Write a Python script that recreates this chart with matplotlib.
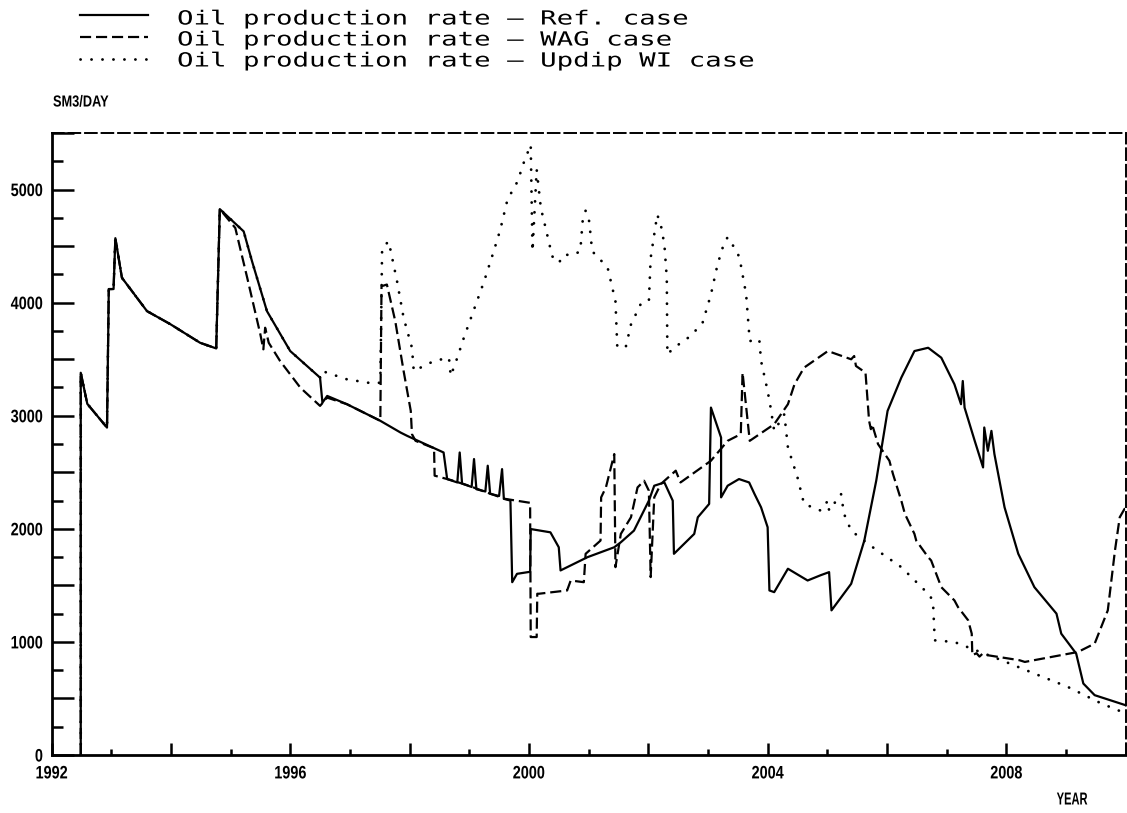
import matplotlib
matplotlib.use("Agg")
import matplotlib.pyplot as plt
from matplotlib.lines import Line2D
from matplotlib.ticker import MultipleLocator, FuncFormatter
from matplotlib.patheffects import AbstractPathEffect
from matplotlib.transforms import Affine2D

# history common to all three runs (year, Sm3/day)
shared_year = [1992.49, 1992.49, 1992.60, 1992.93, 1992.96, 1993.04, 1993.07,
               1993.18, 1993.60, 1993.99, 1994.49, 1994.76, 1994.82]
shared_rate = [0, 3380, 3105, 2895, 4120, 4120, 4570,
               4220, 3925, 3810, 3645, 3595, 4827]

# Reference case
ref_year = [1995.22, 1995.36, 1995.61, 1996.00, 1996.50, 1996.54, 1996.62, 1996.95,
            1997.51, 1997.85, 1997.96, 1998.57, 1998.63, 1998.80, 1998.84, 1998.88,
            1999.04, 1999.08, 1999.12, 1999.27, 1999.31, 1999.35, 1999.50, 1999.55,
            1999.58, 1999.69, 1999.72, 1999.80, 2000.02, 2000.03, 2000.36, 2000.50,
            2000.53, 2000.98, 2001.43, 2001.54, 2001.76, 2002.01, 2002.10, 2002.27,
            2002.41, 2002.43, 2002.77, 2002.83, 2003.02, 2003.05, 2003.22, 2003.22,
            2003.33, 2003.52, 2003.69, 2003.78, 2003.89, 2004.00, 2004.03, 2004.11,
            2004.34, 2004.67, 2004.89, 2005.03, 2005.07, 2005.40, 2005.62, 2005.82,
            2006.01, 2006.24, 2006.46, 2006.69, 2006.91, 2007.13, 2007.24, 2007.27,
            2007.30, 2007.47, 2007.61, 2007.63, 2007.69, 2007.75, 2007.80, 2007.97,
            2008.20, 2008.47, 2008.84, 2008.92, 2009.17, 2009.29, 2009.48, 2010.00]
ref_rate = [4630, 4366, 3925, 3572, 3337, 3116, 3175, 3102,
            2955, 2851, 2822, 2675, 2440, 2410, 2675, 2400,
            2370, 2617, 2350, 2330, 2558, 2310, 2290, 2528,
            2265, 2250, 1528, 1602, 1620, 1998, 1969, 1837,
            1632, 1749, 1837, 1881, 1984, 2249, 2381, 2410,
            2249, 1779, 1955, 2102, 2220, 3072, 2807, 2278,
            2381, 2440, 2410, 2308, 2190, 2014, 1455, 1440,
            1647, 1543, 1590, 1617, 1279, 1514, 1896, 2426,
            3043, 3337, 3572, 3601, 3513, 3278, 3102, 3307,
            3072, 2778, 2543, 2896, 2690, 2866, 2661, 2190,
            1779, 1484, 1250, 1073, 897, 632, 529, 440]

# WAG case
wag_year = [1995.08, 1995.28, 1995.50, 1995.55, 1995.58, 1995.64, 1995.83, 1996.17,
            1996.50, 1996.62, 1996.95, 1997.51, 1997.53, 1997.62, 1997.76, 1997.90,
            1998.02, 1998.04, 1998.10, 1998.38, 1998.41, 1998.42, 1998.70, 1999.00,
            1999.30, 1999.60, 1999.97, 2000.02, 2000.03, 2000.13, 2000.14, 2000.17,
            2000.64, 2000.70, 2000.92, 2000.95, 2001.20, 2001.21, 2001.29, 2001.43,
            2001.45, 2001.54, 2001.71, 2001.82, 2001.93, 2002.01, 2002.04, 2002.10,
            2002.21, 2002.46, 2002.54, 2003.05, 2003.33, 2003.55, 2003.58, 2003.70,
            2004.11, 2004.34, 2004.45, 2004.61, 2005.01, 2005.40, 2005.45, 2005.48,
            2005.64, 2005.70, 2005.73, 2005.75, 2005.85, 2006.04, 2006.10, 2006.24,
            2006.30, 2006.46, 2006.49, 2006.69, 2006.74, 2006.91, 2007.13, 2007.19,
            2007.36, 2007.42, 2007.43, 2007.50, 2007.55, 2007.60, 2007.69, 2008.22,
            2008.31, 2009.20, 2009.48, 2009.70, 2009.82, 2009.90, 2009.98, 2010.00]
wag_rate = [4660, 4219, 3719, 3587, 3778, 3645, 3484, 3248,
            3087, 3160, 3102, 2955, 4145, 4160, 3837, 3396,
            3043, 2837, 2778, 2719, 2719, 2470, 2430, 2380,
            2320, 2265, 2234, 2230, 1043, 1043, 1426, 1426,
            1455, 1543, 1528, 1779, 1896, 2278, 2366, 2661,
            1661, 1955, 2102, 2366, 2425, 2337, 1573, 2278,
            2396, 2514, 2410, 2602, 2778, 2837, 3381, 2778,
            2925, 3102, 3278, 3425, 3572, 3499, 3528, 3440,
            3381, 2955, 2881, 2925, 2749, 2602, 2485, 2249,
            2132, 1955, 1896, 1749, 1720, 1484, 1367, 1308,
            1191, 1073, 882, 900, 870, 895, 882, 838,
            823, 911, 985, 1279, 1808, 2102, 2176, 2176]

# Updip water injection case
updip_year = [1995.22, 1995.36, 1995.61, 1996.00, 1996.50, 1996.53, 1996.95, 1997.40,
              1997.51, 1997.54, 1997.65, 1997.79, 1997.90, 1998.04, 1998.07, 1998.41,
              1998.66, 1998.69, 1998.80, 1998.91, 1999.08, 1999.25, 1999.41, 1999.52,
              1999.64, 1999.81, 1999.92, 2000.03, 2000.06, 2000.13, 2000.20, 2000.28,
              2000.39, 2000.50, 2000.59, 2000.73, 2000.86, 2000.90, 2000.95, 2001.01,
              2001.06, 2001.17, 2001.32, 2001.45, 2001.48, 2001.62, 2001.71, 2001.87,
              2002.01, 2002.04, 2002.15, 2002.21, 2002.27, 2002.31, 2002.32, 2002.43,
              2002.71, 2002.91, 2003.05, 2003.16, 2003.27, 2003.33, 2003.50, 2003.55,
              2003.64, 2003.70, 2003.86, 2003.89, 2004.00, 2004.05, 2004.11, 2004.28,
              2004.34, 2004.50, 2004.61, 2004.89, 2005.01, 2005.03, 2005.23, 2005.28,
              2005.40, 2005.68, 2006.24, 2006.69, 2006.77, 2006.80, 2007.13, 2007.92,
              2008.47, 2009.03, 2009.59, 2010.00]
updip_rate = [4630, 4366, 3925, 3572, 3337, 3396, 3322, 3284,
              3293, 4483, 4542, 4190, 3866, 3601, 3396, 3484,
              3513, 3352, 3513, 3690, 3940, 4190, 4454, 4645,
              4910, 5072, 5248, 5395, 4454, 5177, 4836, 4660,
              4410, 4351, 4425, 4419, 4454, 4719, 4813, 4719,
              4454, 4395, 4307, 4013, 3616, 3601, 3807, 3984,
              4013, 4395, 4778, 4689, 4513, 4219, 3543, 3601,
              3705, 3822, 4072, 4336, 4527, 4578, 4439, 4336,
              4072, 3660, 3675, 3484, 3219, 3072, 2866, 3013,
              2719, 2455, 2220, 2161, 2249, 2161, 2308, 2132,
              1984, 1867, 1661, 1426, 1367, 1014, 999, 838,
              720, 602, 456, 368]

legend_labels = ["Oil production rate \u2013 Ref. case",
                 "Oil production rate \u2013 WAG case",
                 "Oil production rate \u2013 Updip WI case"]

W, H = 1127, 813
SOLID = dict(color="black", lw=1.6, linestyle="-")
DASHED = dict(color="black", lw=1.6, linestyle=(0, (5, 2.2)))
DOTTED = dict(color="black", lw=2.0, linestyle=(0, (0.05, 3.9)), dash_capstyle="round")


class Widen(AbstractPathEffect):
    """Scale glyphs horizontally (plotter-style lettering) about an anchor."""

    def __init__(self, sx, anchor="left"):
        super().__init__()
        self.sx = sx
        self.anchor = anchor

    def draw_path(self, renderer, gc, tpath, affine, rgbFace=None):
        ext = tpath.get_extents(affine)
        if self.anchor == "left":
            x0 = affine.get_matrix()[0, 2]
        elif self.anchor == "right":
            x0 = ext.x1
        else:
            x0 = 0.5 * (ext.x0 + ext.x1)
        stretch = Affine2D().translate(-x0, 0).scale(self.sx, 1).translate(x0, 0)
        renderer.draw_path(gc, tpath, affine + stretch, rgbFace)


LABEL_FAMILY = ["Liberation Sans", "DejaVu Sans"]

fig = plt.figure(figsize=(W / 100, H / 100), dpi=100)
ax = fig.add_axes([51.5 / W, 1 - 755 / H, (1125.7 - 51.5) / W, (755 - 133) / H])

ax.plot(shared_year + ref_year, shared_rate + ref_rate, **SOLID)
ax.plot(shared_year + wag_year, shared_rate + wag_rate, **DASHED)
ax.plot(shared_year + updip_year, shared_rate + updip_rate, **DOTTED)

ax.set_xlim(1992, 2010)
ax.set_ylim(0, 5500)

# frame: solid axes, dashed top/right border
for side in ("left", "bottom"):
    ax.spines[side].set_linewidth(2.0)
for side in ("top", "right"):
    ax.spines[side].set_linewidth(1.4)
    ax.spines[side].set_linestyle((0, (6, 2.5)))

ax.xaxis.set_major_locator(MultipleLocator(2))
ax.xaxis.set_minor_locator(MultipleLocator(1))
ax.xaxis.set_major_formatter(FuncFormatter(
    lambda v, p: f"{int(round(v))}" if int(round(v)) % 4 == 0 else ""))
ax.yaxis.set_major_locator(MultipleLocator(500))
ax.yaxis.set_minor_locator(MultipleLocator(250))
ax.yaxis.set_major_formatter(FuncFormatter(
    lambda v, p: f"{int(round(v))}" if int(round(v)) % 1000 == 0 else ""))

ax.tick_params(which="both", direction="in", top=False, right=False, width=1.8)
ax.tick_params(axis="x", which="major", length=8.5, pad=7.5)
ax.tick_params(axis="x", which="minor", length=4.5)
ax.tick_params(axis="y", which="major", length=16, pad=6)
ax.tick_params(axis="y", which="minor", length=8)
for lbl in ax.get_xticklabels():
    lbl.set(fontsize=13, family=LABEL_FAMILY, weight="bold",
            path_effects=[Widen(0.8, "center")])
for lbl in ax.get_yticklabels():
    lbl.set(fontsize=13, family=LABEL_FAMILY, weight="bold",
            path_effects=[Widen(0.8, "right")])

fig.text(53 / W, 1 - 102 / H, "SM3/DAY", ha="left", va="center", fontsize=11.5,
         family=LABEL_FAMILY, weight="bold", path_effects=[Widen(0.8, "left")])
fig.text(1072 / W, 1 - 800 / H, "YEAR", ha="center", va="center", fontsize=12.5,
         family=LABEL_FAMILY, weight="bold", path_effects=[Widen(0.64, "center")])

# legend block above the frame
styles = [SOLID, DASHED, DOTTED]
line_y = [15, 37, 59]
text_y = [19, 40, 61]
for style, ly, ty, label in zip(styles, line_y, text_y, legend_labels):
    fig.add_artist(Line2D([80 / W, 148 / W], [1 - ly / H] * 2,
                          transform=fig.transFigure, **style))
    fig.text(177 / W, 1 - ty / H, label, ha="left", va="center",
             fontsize=14, family="DejaVu Sans Mono",
             path_effects=[Widen(1.41)])

fig.savefig("out.png", dpi=100, facecolor="white")
